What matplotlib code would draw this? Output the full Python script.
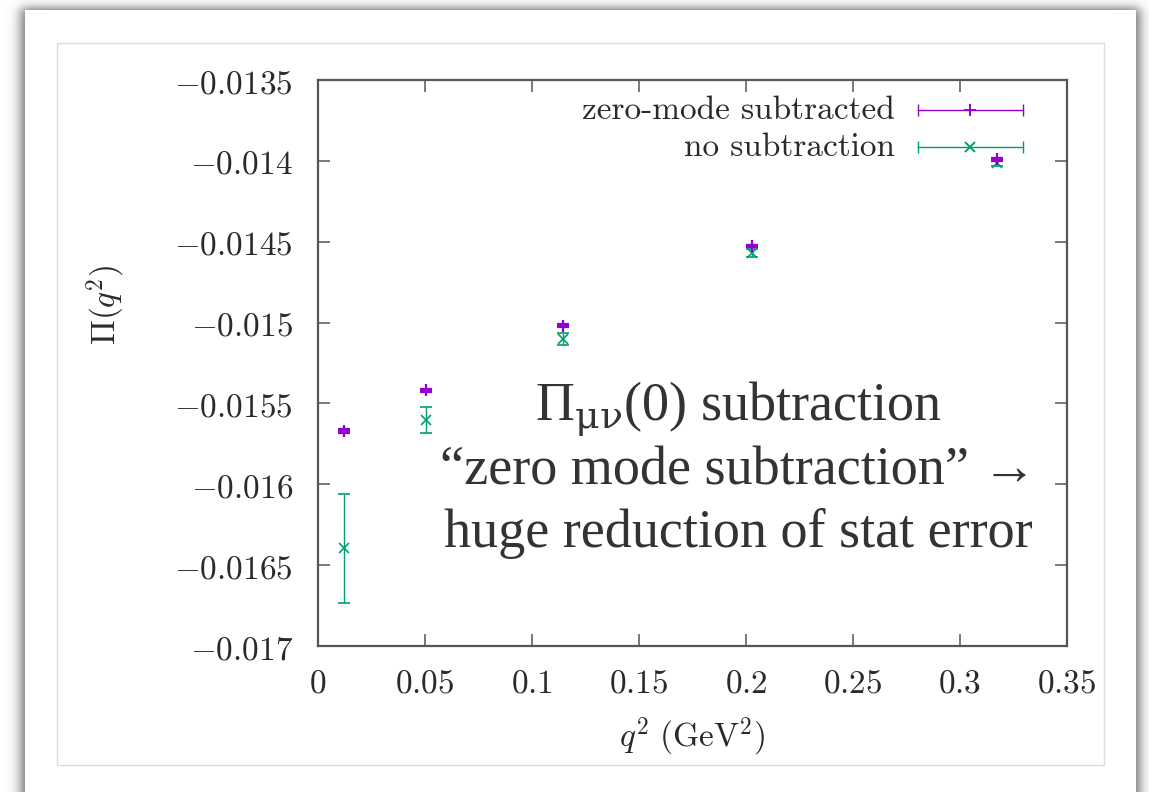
import numpy as np
import matplotlib
matplotlib.use("Agg")
import matplotlib.pyplot as plt
from matplotlib.patches import Rectangle

plt.rcParams['mathtext.fontset'] = 'cm'

# ---- data -------------------------------------------------------------
q2 = [0.0121, 0.0505, 0.1143, 0.2030, 0.3171]
pi_subtracted = [-0.01567, -0.01542, -0.01502, -0.014526, -0.01399]
err_subtracted = [0.000012, 0.000010, 0.000010, 0.000008, 0.000008]
pi_plain = [-0.016397, -0.015601, -0.015103, -0.014571, -0.014015]
err_plain = [0.00034, 0.000079, 0.000037, 0.000025, 0.000018]

x_ticks = [0, 0.05, 0.1, 0.15, 0.2, 0.25, 0.3, 0.35]
x_tick_labels = ['0', '0.05', '0.1', '0.15', '0.2', '0.25', '0.3', '0.35']
y_ticks = [-0.017, -0.0165, -0.016, -0.0155, -0.015, -0.0145, -0.014, -0.0135]
y_tick_labels = ['-0.017', '-0.0165', '-0.016', '-0.0155', '-0.015',
                 '-0.0145', '-0.014', '-0.0135']
series_names = ['zero-mode subtracted', 'no subtraction']

PURPLE = '#9400d3'
GREEN = '#009e73'

W, H = 1149, 792
fig = plt.figure(figsize=(W / 100, H / 100), dpi=100)
fig.patch.set_facecolor('white')

# ---- slide panel with a soft drop shadow -------------------------------
bg = fig.add_axes([0, 0, 1, 1], zorder=0)
bg.set_xlim(0, W)
bg.set_ylim(H, 0)
bg.axis('off')


def soft_step(v, a, b, s):
    return 1.0 / (1.0 + np.exp(-(v - a) / s)) * 1.0 / (1.0 + np.exp(-(b - v) / s))


xs = np.arange(W) + 0.5
ys = np.arange(H) + 0.5
shadow = np.outer(soft_step(ys, 8, 2000, 3.0), soft_step(xs, 21, 1140, 3.5))
rgba = np.zeros((H, W, 4))
rgba[..., :3] = 0.25
rgba[..., 3] = 0.75 * shadow
bg.imshow(rgba, extent=(0, W, H, 0), interpolation='bilinear', zorder=0)
bg.add_patch(Rectangle((25, 10), 1136 - 25, 900, facecolor='white',
                       edgecolor='none', zorder=1))
bg.add_patch(Rectangle((57, 43), 1104 - 57, 765 - 43, facecolor='white',
                       edgecolor='#dcdcdc', lw=1.0, zorder=2))

# ---- plot area ---------------------------------------------------------
L, R, T, B = 318, 1067, 80, 646
ax = fig.add_axes([L / W, (H - B) / H, (R - L) / W, (B - T) / H], zorder=3)
ax.set_facecolor('none')
ax.set_xlim(0, 0.35)
ax.set_ylim(-0.017, -0.0135)

ax.errorbar(q2, pi_plain, yerr=err_plain, fmt='x', color=GREEN, ms=7,
            mew=1.2, elinewidth=1.0, capsize=4.3, capthick=1.0, zorder=4)
ax.errorbar(q2, pi_subtracted, yerr=err_subtracted, fmt='+', color=PURPLE,
            ms=9, mew=1.6, elinewidth=1.0, capsize=4.3, capthick=1.0, zorder=5)

for sp in ax.spines.values():
    sp.set_color('#555555')
    sp.set_linewidth(1.6)

ax.set_xticks(x_ticks)
ax.set_xticklabels(['$' + t + '$' for t in x_tick_labels])
ax.set_yticks(y_ticks)
ax.set_yticklabels(['$' + t + '$' for t in y_tick_labels])
ax.tick_params(direction='in', length=8.5, width=1.1, color='#555555',
               top=True, right=True, labelsize=24, labelcolor='#2a2a2a')
ax.tick_params(axis='y', pad=18)
ax.tick_params(axis='x', pad=15)

# axis titles
fig.text(692 / W, 1 - 737 / H, r'$q^2\ (\mathrm{GeV}^2)$', fontsize=24,
         color='#2a2a2a', ha='center', va='center')
fig.text(106 / W, 1 - 305 / H, r'$\Pi(q^2)$', fontsize=24, rotation=90,
         color='#2a2a2a', ha='center', va='center')


# ---- key ---------------------------------------------------------------
def px(x, y):
    return (x - L) / (R - L), (B - y) / (B - T)


for name, color, marker, ms, y in [(series_names[0], PURPLE, '+', 9, 110),
                                   (series_names[1], GREEN, 'x', 7, 147)]:
    tx, ty = px(895, y)
    ax.text(tx, ty, name, transform=ax.transAxes, ha='right', va='center',
            fontsize=24, family='cmr10', color='#2a2a2a')
    x0, yy = px(918, y)
    x1, _ = px(1023, y)
    xm, _ = px(970, y)
    ax.plot([x0, x1], [yy, yy], color=color, lw=1.0, transform=ax.transAxes,
            clip_on=False)
    ax.plot([x0, x1], [yy, yy], ls='none', marker='|', ms=9, mew=1.0,
            color=color, transform=ax.transAxes, clip_on=False)
    ax.plot([xm], [yy], ls='none', marker=marker, ms=ms, mew=1.4,
            color=color, transform=ax.transAxes, clip_on=False)

# ---- note --------------------------------------------------------------
note_font = dict(family='Liberation Serif', fontsize=39, color='#333333',
                 ha='center', va='baseline')
cx = 738 / W
fig.text(cx, 1 - 421 / H, r'Π$_{\mathrm{μν}}$(0) subtraction',
         math_fontfamily='dejavuserif', **note_font)
fig.text(cx, 1 - 484 / H, '\u201czero mode subtraction\u201d \u2192', **note_font)
fig.text(cx, 1 - 547 / H, 'huge reduction of stat error', **note_font)

fig.savefig('out.png', dpi=100)
